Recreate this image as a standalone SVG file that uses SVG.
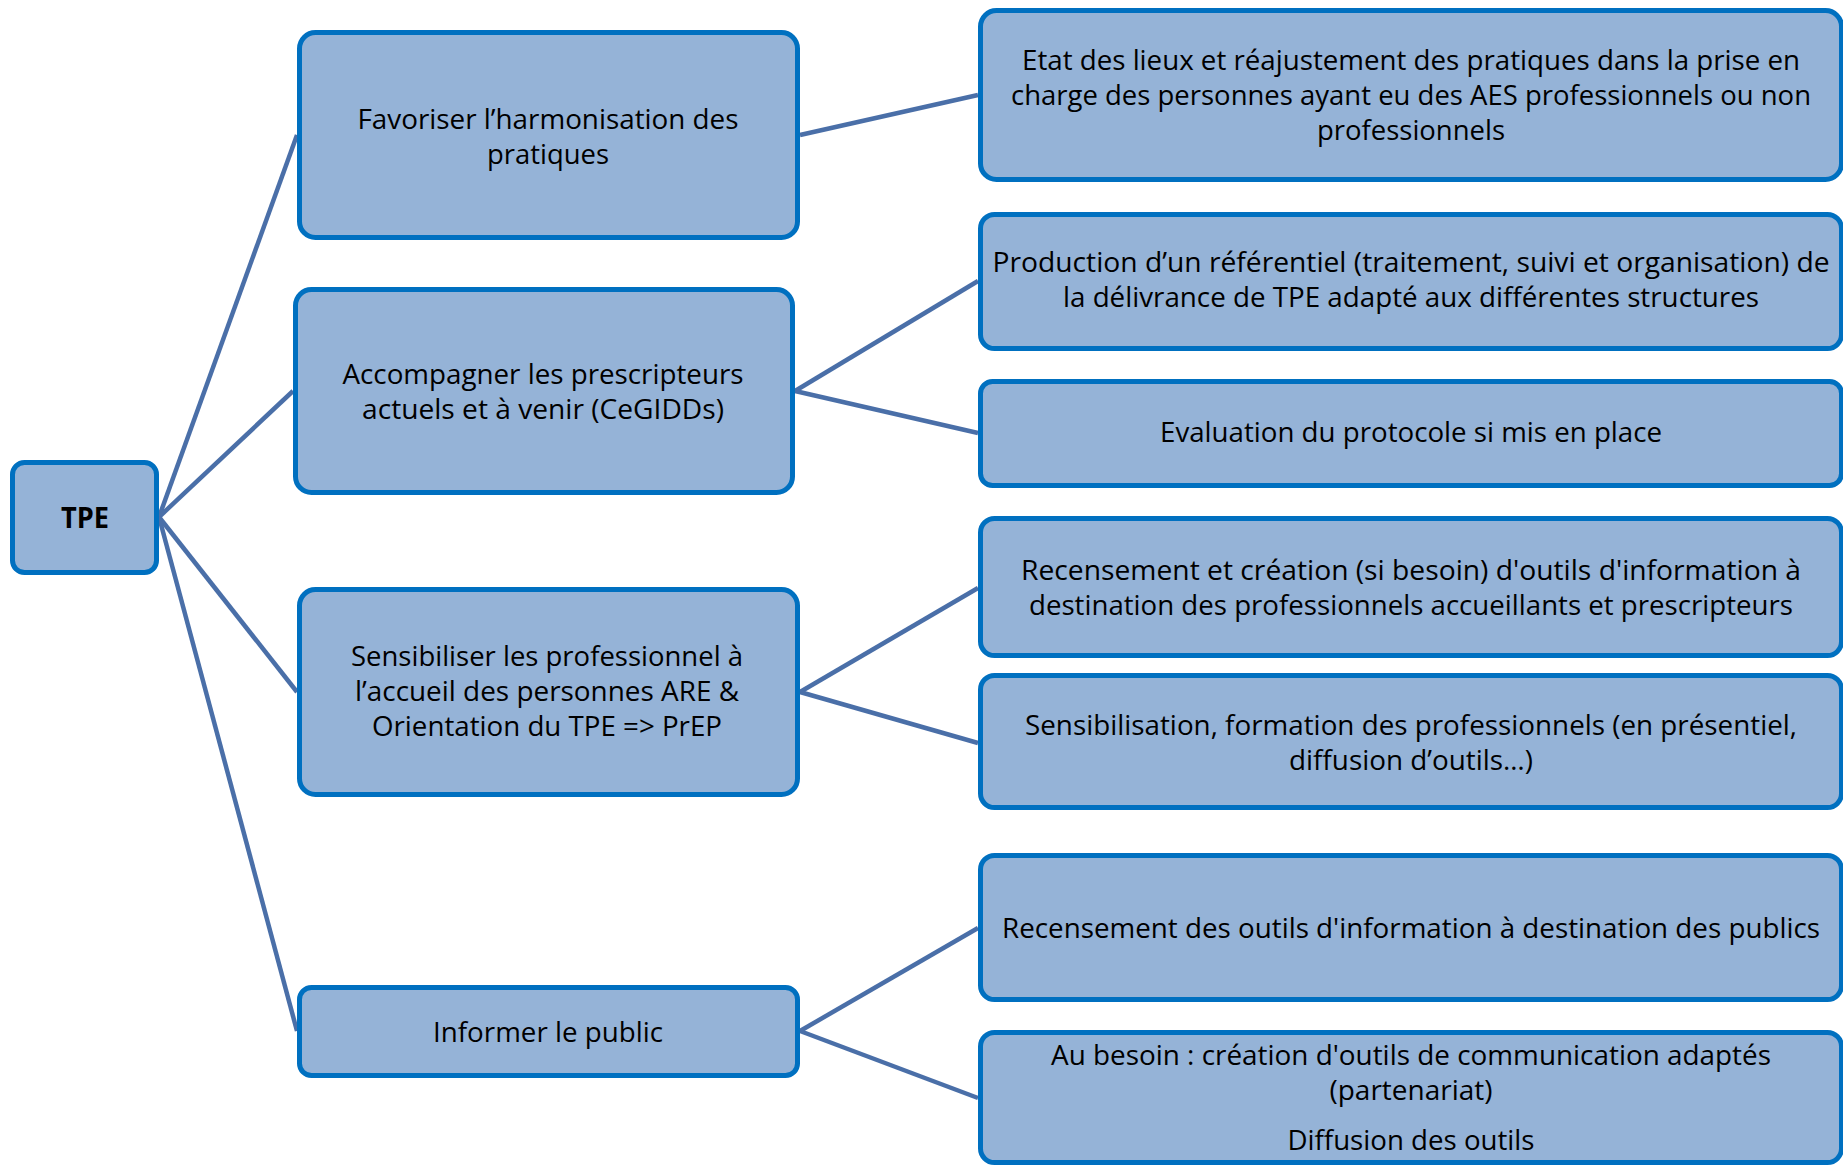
<svg xmlns="http://www.w3.org/2000/svg" width="1843" height="1165" viewBox="0 0 1843 1165">
<style>
  .box { fill: #95b3d7; stroke: #0070c0; stroke-width: 5; }
  .lbl { font-family: "Open Sans", "Liberation Sans", sans-serif; font-size: 27px; fill: #000; text-anchor: middle; }
  .bold { font-weight: bold; font-size: 28px; }
  .conn line { stroke: #4a6fa8; stroke-width: 4.5; stroke-linecap: butt; }
</style>
<rect width="1843" height="1165" fill="#ffffff"/>
<g id="connectors" class="conn">
  <line x1="159" y1="517" x2="297" y2="135"/>
  <line x1="159" y1="517" x2="293" y2="391"/>
  <line x1="159" y1="517" x2="297" y2="692"/>
  <line x1="159" y1="517" x2="297" y2="1031"/>
  <line x1="800" y1="135" x2="978" y2="95"/>
  <line x1="795" y1="391" x2="978" y2="281"/>
  <line x1="795" y1="391" x2="978" y2="433"/>
  <line x1="800" y1="692" x2="978" y2="588"/>
  <line x1="800" y1="692" x2="978" y2="743"/>
  <line x1="800" y1="1031" x2="978" y2="928"/>
  <line x1="800" y1="1031" x2="978" y2="1098"/>
</g>
<g id="tpe">
  <rect class="box" x="12.5" y="462.5" width="144" height="110" rx="12"/>
  <text class="lbl bold" x="85" y="528" textLength="48" lengthAdjust="spacingAndGlyphs">TPE</text>
</g>
<g id="favoriser">
  <rect class="box" x="299.5" y="32.5" width="498" height="205" rx="16"/>
  <text class="lbl" x="548" y="128.5" textLength="381" lengthAdjust="spacingAndGlyphs">Favoriser l’harmonisation des</text>
  <text class="lbl" x="548" y="163.5" textLength="122" lengthAdjust="spacingAndGlyphs">pratiques</text>
</g>
<g id="accompagner">
  <rect class="box" x="295.5" y="289.5" width="497" height="203" rx="16"/>
  <text class="lbl" x="543" y="383.5" textLength="401" lengthAdjust="spacingAndGlyphs">Accompagner les prescripteurs</text>
  <text class="lbl" x="543" y="418.5" textLength="362" lengthAdjust="spacingAndGlyphs">actuels et à venir (CeGIDDs)</text>
</g>
<g id="sensibiliser">
  <rect class="box" x="299.5" y="589.5" width="498" height="205" rx="16"/>
  <text class="lbl" x="547" y="665.5" textLength="392" lengthAdjust="spacingAndGlyphs">Sensibiliser les professionnel à</text>
  <text class="lbl" x="547" y="700.5" textLength="384" lengthAdjust="spacingAndGlyphs">l’accueil des personnes ARE &amp;</text>
  <text class="lbl" x="547" y="735.5" textLength="350" lengthAdjust="spacingAndGlyphs">Orientation du TPE =&gt; PrEP</text>
</g>
<g id="informer">
  <rect class="box" x="299.5" y="987.5" width="498" height="88" rx="12"/>
  <text class="lbl" x="548" y="1041.5" textLength="230" lengthAdjust="spacingAndGlyphs">Informer le public</text>
</g>
<g id="etat">
  <rect class="box" x="980.5" y="10.5" width="861" height="169" rx="16"/>
  <text class="lbl" x="1411" y="69.5" textLength="778" lengthAdjust="spacingAndGlyphs">Etat des lieux et réajustement des pratiques dans la prise en</text>
  <text class="lbl" x="1411" y="104.5" textLength="800" lengthAdjust="spacingAndGlyphs">charge des personnes ayant eu des AES professionnels ou non</text>
  <text class="lbl" x="1411" y="139.5" textLength="188" lengthAdjust="spacingAndGlyphs">professionnels</text>
</g>
<g id="production">
  <rect class="box" x="980.5" y="214.5" width="861" height="134" rx="14"/>
  <text class="lbl" x="1411" y="271.5" textLength="837" lengthAdjust="spacingAndGlyphs">Production d’un référentiel  (traitement, suivi et organisation) de</text>
  <text class="lbl" x="1411" y="306.5" textLength="696" lengthAdjust="spacingAndGlyphs">la délivrance de TPE adapté aux différentes structures</text>
</g>
<g id="evaluation">
  <rect class="box" x="980.5" y="381.5" width="861" height="104" rx="12"/>
  <text class="lbl" x="1411" y="441.5" textLength="502" lengthAdjust="spacingAndGlyphs">Evaluation du protocole si mis en place</text>
</g>
<g id="recensement-creation">
  <rect class="box" x="980.5" y="518.5" width="861" height="137" rx="14"/>
  <text class="lbl" x="1411" y="579.5" textLength="780" lengthAdjust="spacingAndGlyphs">Recensement et création (si besoin)  d'outils d'information à</text>
  <text class="lbl" x="1411" y="614.5" textLength="764" lengthAdjust="spacingAndGlyphs">destination des professionnels accueillants et prescripteurs</text>
</g>
<g id="sensibilisation">
  <rect class="box" x="980.5" y="675.5" width="861" height="132" rx="14"/>
  <text class="lbl" x="1411" y="734.5" textLength="772" lengthAdjust="spacingAndGlyphs">Sensibilisation, formation des professionnels (en présentiel,</text>
  <text class="lbl" x="1411" y="769.5" textLength="244" lengthAdjust="spacingAndGlyphs">diffusion d’outils…)</text>
</g>
<g id="recensement-outils">
  <rect class="box" x="980.5" y="855.5" width="861" height="144" rx="14"/>
  <text class="lbl" x="1411" y="937.5" textLength="818" lengthAdjust="spacingAndGlyphs">Recensement des outils d'information à destination des publics</text>
</g>
<g id="au-besoin">
  <rect class="box" x="980.5" y="1032.5" width="861" height="130" rx="14"/>
  <text class="lbl" x="1411" y="1064.5" textLength="720" lengthAdjust="spacingAndGlyphs">Au besoin : création d'outils de communication adaptés</text>
  <text class="lbl" x="1411" y="1099.5" textLength="163" lengthAdjust="spacingAndGlyphs">(partenariat)</text>
  <text class="lbl" x="1411" y="1149.5" textLength="247" lengthAdjust="spacingAndGlyphs">Diffusion des outils</text>
</g>
</svg>
